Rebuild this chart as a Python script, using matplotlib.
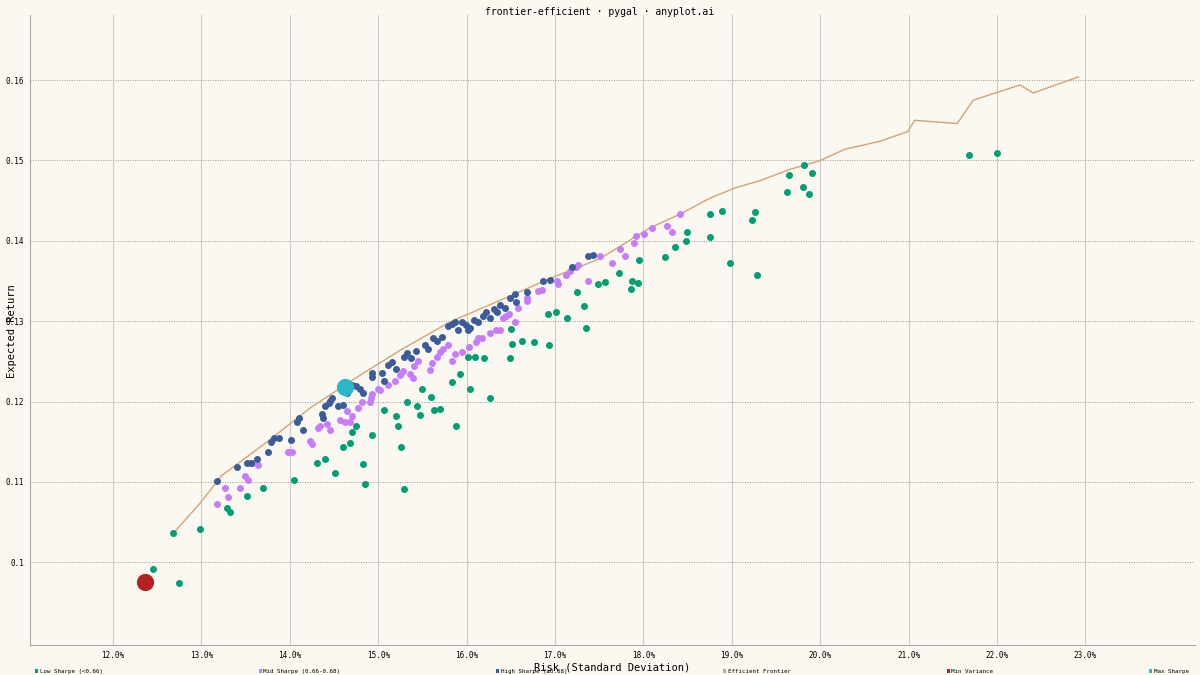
import matplotlib.pyplot as plt
from matplotlib.ticker import FuncFormatter
from matplotlib.patches import Patch

# risk (%) and expected return for each portfolio group
low_risk = [12.68, 12.98, 12.45, 12.75, 13.29, 13.32, 13.52, 13.70, 14.05, 14.31, 14.40, 14.51,
            14.60, 14.68, 14.75, 14.70, 14.83, 14.85, 14.93, 15.07, 15.20, 15.22, 15.26, 15.29,
            15.33, 15.44, 15.47, 15.50, 15.60, 15.63, 15.70, 15.83, 15.88, 15.93, 16.02, 16.04,
            16.09, 16.20, 16.26, 16.49, 16.51, 16.50, 16.63, 16.76, 16.92, 16.93, 17.01, 17.14,
            17.25, 17.33, 17.35, 17.49, 17.57, 17.72, 17.86, 17.87, 17.94, 17.95, 18.24, 18.36,
            18.48, 18.49, 18.75, 18.75, 18.89, 18.98, 19.23, 19.26, 19.29, 19.65, 19.62, 19.81,
            19.82, 19.87, 19.91, 21.68, 22.00]
low_ret = [0.1036, 0.1041, 0.0991, 0.0974, 0.1068, 0.1062, 0.1083, 0.1093, 0.1102, 0.1124, 0.1128, 0.1111,
           0.1144, 0.1148, 0.1169, 0.1162, 0.1122, 0.1097, 0.1159, 0.1189, 0.1182, 0.1170, 0.1143, 0.1091,
           0.1199, 0.1195, 0.1183, 0.1216, 0.1206, 0.1190, 0.1191, 0.1224, 0.1169, 0.1234, 0.1255, 0.1216,
           0.1255, 0.1254, 0.1204, 0.1254, 0.1272, 0.1290, 0.1275, 0.1274, 0.1309, 0.1271, 0.1311, 0.1304,
           0.1336, 0.1319, 0.1292, 0.1346, 0.1349, 0.1360, 0.1340, 0.1350, 0.1347, 0.1376, 0.1380, 0.1392,
           0.1400, 0.1411, 0.1405, 0.1433, 0.1437, 0.1373, 0.1426, 0.1436, 0.1357, 0.1482, 0.1461, 0.1467,
           0.1494, 0.1458, 0.1484, 0.1507, 0.1509]

mid_risk = [13.18, 13.27, 13.30, 13.44, 13.49, 13.53, 13.57, 13.64, 13.98, 14.02, 14.23, 14.25,
            14.32, 14.34, 14.42, 14.45, 14.57, 14.62, 14.65, 14.68, 14.70, 14.77, 14.82, 14.91,
            14.92, 14.93, 15.00, 15.02, 15.11, 15.19, 15.25, 15.28, 15.36, 15.41, 15.45, 15.39,
            15.59, 15.61, 15.67, 15.70, 15.73, 15.79, 15.83, 15.87, 15.95, 16.03, 16.11, 16.13,
            16.17, 16.26, 16.33, 16.38, 16.41, 16.45, 16.48, 16.55, 16.58, 16.68, 16.68, 16.81,
            16.85, 17.02, 17.03, 17.12, 17.17, 17.24, 17.26, 17.37, 17.51, 17.64, 17.74, 17.79,
            17.89, 17.92, 18.01, 18.10, 18.27, 18.32, 18.41]
mid_ret = [0.1073, 0.1093, 0.1081, 0.1093, 0.1107, 0.1102, 0.1123, 0.1121, 0.1137, 0.1137, 0.1151, 0.1147,
           0.1167, 0.1170, 0.1172, 0.1165, 0.1177, 0.1175, 0.1188, 0.1175, 0.1182, 0.1192, 0.1200, 0.1199,
           0.1204, 0.1210, 0.1216, 0.1214, 0.1221, 0.1226, 0.1233, 0.1238, 0.1234, 0.1244, 0.1251, 0.1229,
           0.1239, 0.1248, 0.1255, 0.1262, 0.1265, 0.1271, 0.1250, 0.1259, 0.1262, 0.1268, 0.1274, 0.1279,
           0.1279, 0.1285, 0.1289, 0.1289, 0.1304, 0.1306, 0.1309, 0.1299, 0.1316, 0.1329, 0.1325, 0.1337,
           0.1339, 0.1350, 0.1346, 0.1357, 0.1362, 0.1368, 0.1370, 0.1350, 0.1381, 0.1373, 0.1390, 0.1381,
           0.1397, 0.1406, 0.1408, 0.1416, 0.1419, 0.1411, 0.1433]

high_risk = [13.18, 13.40, 13.52, 13.56, 13.63, 13.75, 13.79, 13.82, 13.88, 14.01, 14.08, 14.10,
             14.15, 14.36, 14.38, 14.40, 14.45, 14.44, 14.48, 14.55, 14.60, 14.65, 14.70, 14.75,
             14.79, 14.83, 14.93, 14.93, 15.04, 15.07, 15.11, 15.16, 15.20, 15.29, 15.33, 15.37,
             15.43, 15.53, 15.56, 15.62, 15.67, 15.72, 15.79, 15.83, 15.87, 15.90, 15.95, 15.99,
             16.02, 16.04, 16.08, 16.13, 16.19, 16.22, 16.26, 16.31, 16.34, 16.38, 16.43, 16.49,
             16.55, 16.56, 16.68, 16.86, 16.94, 17.19, 17.37, 17.43]
high_ret = [0.1101, 0.1119, 0.1124, 0.1124, 0.1129, 0.1137, 0.1150, 0.1155, 0.1155, 0.1152, 0.1175, 0.1179,
            0.1164, 0.1185, 0.1180, 0.1194, 0.1201, 0.1198, 0.1205, 0.1194, 0.1196, 0.1211, 0.1221, 0.1219,
            0.1216, 0.1211, 0.1236, 0.1231, 0.1236, 0.1225, 0.1245, 0.1249, 0.1241, 0.1256, 0.1261, 0.1254,
            0.1263, 0.1270, 0.1266, 0.1279, 0.1275, 0.1280, 0.1294, 0.1296, 0.1299, 0.1289, 0.1299, 0.1295,
            0.1289, 0.1292, 0.1301, 0.1299, 0.1306, 0.1311, 0.1304, 0.1315, 0.1311, 0.1320, 0.1317, 0.1329,
            0.1334, 0.1324, 0.1336, 0.1350, 0.1351, 0.1368, 0.1381, 0.1382]

frontier_risk = [12.68, 12.98, 13.23, 13.72, 14.23, 14.74, 15.25, 15.81, 16.38, 16.94, 17.51, 18.07,
                 18.41, 18.75, 19.04, 19.32, 19.66, 20.00, 20.28, 20.68, 20.99, 21.07, 21.55, 21.73,
                 22.26, 22.41, 22.92]
frontier_ret = [0.1036, 0.1073, 0.1108, 0.1148, 0.1192, 0.1229, 0.1264, 0.1299, 0.1326, 0.1353, 0.1378, 0.1416,
                0.1433, 0.1453, 0.1466, 0.1475, 0.1489, 0.1500, 0.1514, 0.1524, 0.1536, 0.1550, 0.1546, 0.1575,
                0.1594, 0.1584, 0.1604]

min_var = (12.36, 0.0976)
max_sharpe = (14.62, 0.1218)

bg = '#faf8f1'
mono = 'DejaVu Sans Mono'
c_low, c_mid, c_high = '#009e73', '#c77cff', '#3b5b9a'
c_front, c_min, c_max = '#d4a373', '#b22222', '#2ab7ca'

fig = plt.figure(figsize=(12, 6.75), dpi=100, facecolor=bg)
ax = fig.add_axes([0.025, 0.0444, 0.9708, 0.9333], facecolor=bg)

ax.scatter(low_risk, low_ret, s=16, c=c_low, zorder=3)
ax.scatter(mid_risk, mid_ret, s=16, c=c_mid, zorder=3)
ax.scatter(high_risk, high_ret, s=16, c=c_high, zorder=4)
ax.plot(frontier_risk, frontier_ret, c=c_front, lw=1, zorder=2)
ax.scatter([min_var[0]], [min_var[1]], s=130, c=c_min, zorder=5)
ax.scatter([max_sharpe[0]], [max_sharpe[1]], s=130, c=c_max, zorder=5)

ax.set_xlim(11.06, 24.24)
ax.set_ylim(0.0897, 0.1681)
ax.set_xticks(range(12, 24))
ax.xaxis.set_major_formatter(FuncFormatter(lambda v, p: f'{v:.1f}%'))
ax.set_yticks([0.10, 0.11, 0.12, 0.13, 0.14, 0.15, 0.16])
ax.yaxis.set_major_formatter(FuncFormatter(lambda v, p: f'{v:g}'))
ax.tick_params(labelsize=5.5, length=0, pad=4)
for t in ax.get_xticklabels() + ax.get_yticklabels():
    t.set_family(mono)

ax.grid(axis='x', color='#cccccc', lw=0.8)
ax.grid(axis='y', color='#999999', lw=0.7, ls=(0, (1, 1.5)))
ax.set_axisbelow(True)
for s in ['top', 'right']:
    ax.spines[s].set_visible(False)
for s in ['left', 'bottom']:
    ax.spines[s].set_color('#aaaaaa')

ax.set_xlabel('Risk (Standard Deviation)', fontsize=7.5, family=mono, labelpad=2)
fig.text(0.006, 0.51, 'Expected Return', rotation=90, ha='left', va='center',
         fontsize=7.5, family=mono)
fig.text(0.5, 0.99, 'frontier-efficient · pygal · anyplot.ai', ha='center', va='top',
         fontsize=7, family=mono)

labels = ['Low Sharpe (<0.66)', 'Mid Sharpe (0.66-0.68)', 'High Sharpe (≥0.68)',
          'Efficient Frontier', 'Min Variance', 'Max Sharpe']
colors = [c_low, c_mid, c_high, c_front, c_min, c_max]
handles = [Patch(facecolor=c, edgecolor='none') for c in colors]
fig.legend(handles, labels, ncol=6, loc='lower left', bbox_to_anchor=(0.025, -0.006, 0.97, 0.02),
           mode='expand', frameon=False, prop={'family': mono, 'size': 4.2},
           handlelength=0.5, handleheight=0.6, handletextpad=0.3)
fig.savefig('out.png', dpi=100, facecolor=bg)
